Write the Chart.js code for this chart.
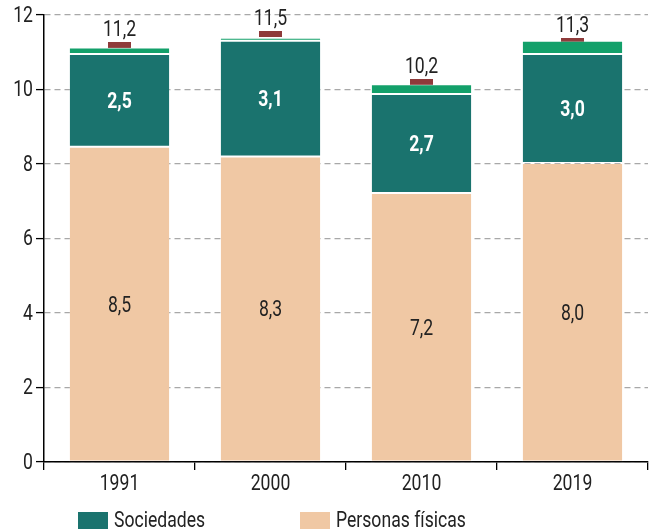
<!DOCTYPE html>
<html>
<head>
<meta charset="utf-8">
<script src="https://cdn.jsdelivr.net/npm/chart.js@4.4.0/dist/chart.umd.min.js"></script>
<style>
  html, body { margin: 0; padding: 0; background: #fff; }
  #wrap { position: relative; width: 650px; height: 532px; overflow: hidden; }
  #c { position: absolute; left: 0; top: 0; }
  .leg { position: absolute; top: 508px; font-family: 'Roboto', sans-serif; font-size: 22px; color: #222; white-space: nowrap; }
  .leg span.box { position: absolute; left: 0; top: 4px; width: 30px; height: 17px; }
  .leg span.txt { position: absolute; left: 36px; top: 0; line-height: 24px; transform: scaleX(0.8); transform-origin: left center; }
</style>
</head>
<body>
<div id="wrap">
  <canvas id="c" width="650" height="532"></canvas>
  <div class="leg" style="left:78px"><span class="box" style="background:#1A736E"></span><span class="txt">Sociedades</span></div>
  <div class="leg" style="left:300px"><span class="box" style="background:#F0C8A4"></span><span class="txt">Personas físicas</span></div>
</div>
<script>
const categories = ['1991', '2000', '2010', '2019'];
const personasFisicas = [8.46, 8.20, 7.22, 8.03];
const sociedades = [2.49, 3.11, 2.66, 2.92];
const otros = [0.18, 0.08, 0.26, 0.36];
const totales = [11.2, 11.5, 10.2, 11.3];
const personasLabels = ['8,5', '8,3', '7,2', '8,0'];
const sociedadesLabels = ['2,5', '3,1', '2,7', '3,0'];
const totalLabels = ['11,2', '11,5', '10,2', '11,3'];
const yTicks = [0, 2, 4, 6, 8, 10, 12];

const FONT = "'Roboto', sans-serif";
const SX = 0.8;

const marker = document.createElement('canvas');
marker.width = 23; marker.height = 6;
const mctx = marker.getContext('2d');
mctx.fillStyle = '#8E3A3A';
mctx.fillRect(0, 0, 23, 6);

function narrowText(ctx, text, x, y, align) {
  ctx.save();
  ctx.translate(x, y);
  ctx.scale(SX, 1);
  ctx.textAlign = align || 'center';
  ctx.fillText(text, 0, 0);
  ctx.restore();
}

const labelPlugin = {
  id: 'labels',
  afterDraw(chart) {
    const ctx = chart.ctx;
    ctx.save();
    const m0 = chart.getDatasetMeta(0);
    const m1 = chart.getDatasetMeta(1);
    const m3 = chart.getDatasetMeta(3);
    ctx.textBaseline = 'middle';
    ctx.font = '22px ' + FONT;
    ctx.fillStyle = '#222';
    m0.data.forEach((bar, i) => narrowText(ctx, personasLabels[i], bar.x, (bar.y + bar.base) / 2 + 2));
    ctx.font = 'bold 22px ' + FONT;
    ctx.fillStyle = '#fff';
    m1.data.forEach((bar, i) => narrowText(ctx, sociedadesLabels[i], bar.x, (bar.y + bar.base) / 2 + 2));
    ctx.font = '22px ' + FONT;
    ctx.fillStyle = '#222';
    ctx.textBaseline = 'alphabetic';
    m3.data.forEach((pt, i) => narrowText(ctx, totalLabels[i], pt.x, pt.y - 9));
    const xs = chart.scales.x, ys = chart.scales.y;
    ctx.textBaseline = 'middle';
    categories.forEach((c, i) => narrowText(ctx, c, xs.getPixelForValue(i), xs.top + 22));
    yTicks.forEach(v => narrowText(ctx, String(v), ys.right - 11, ys.getPixelForValue(v) + 1, 'right'));
    ctx.restore();
  }
};

const barCommon = {
  type: 'bar',
  barPercentage: 0.67,
  categoryPercentage: 1.0,
  borderWidth: 1,
  borderColor: 'rgba(255,255,255,0.15)',
  borderSkipped: false,
  stack: 's'
};

new Chart(document.getElementById('c'), {
  data: {
    labels: categories,
    datasets: [
      Object.assign({}, barCommon, { label: 'Personas físicas', data: personasFisicas, backgroundColor: '#F0C8A4', borderColor: 'rgba(255,255,255,0.12)' }),
      Object.assign({}, barCommon, { label: 'Sociedades', data: sociedades, backgroundColor: '#1A736E' }),
      Object.assign({}, barCommon, { label: 'Otros', data: otros, backgroundColor: '#13A06A', borderColor: 'rgba(255,255,255,0.35)' }),
      {
        type: 'line', label: 'Total', data: totales, showLine: false,
        pointStyle: marker, pointRadius: 12, pointHoverRadius: 12,
        borderColor: '#8E3A3A', backgroundColor: '#8E3A3A', clip: false
      }
    ]
  },
  options: {
    responsive: false,
    animation: false,
    events: [],
    layout: { autoPadding: false, padding: { top: 15, right: 2, left: 0, bottom: 30 } },
    plugins: { legend: { display: false }, tooltip: { enabled: false } },
    scales: {
      x: {
        stacked: true,
        offset: true,
        grid: { offset: true, drawOnChartArea: false, drawTicks: true, tickLength: 8, color: '#000', tickColor: '#000', lineWidth: 1.3 },
        border: { display: true, color: '#000', width: 1.5 },
        ticks: { display: false },
        afterFit(s) { s.height = 40; }
      },
      y: {
        stacked: true,
        min: 0, max: 12,
        afterBuildTicks(s) { s.ticks = yTicks.map(v => ({ value: v })); },
        grid: { color: '#A8A8A8', lineWidth: 1.2, tickColor: '#000', tickLength: 8, tickWidth: 1.3, tickBorderDash: [] },
        border: { display: true, color: '#000', width: 1.5, dash: [6, 4] },
        ticks: { display: false },
        afterFit(s) { s.width = 44; }
      }
    }
  },
  plugins: [labelPlugin]
});
</script>
</body>
</html>
